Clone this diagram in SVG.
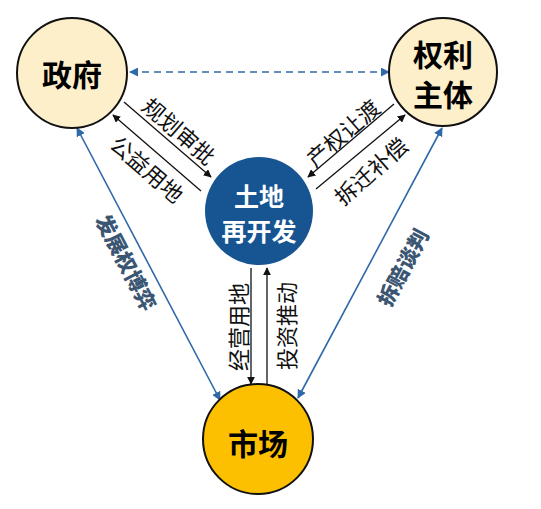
<svg xmlns="http://www.w3.org/2000/svg" width="541" height="509" viewBox="0 0 541 509">
<style>
.node{stroke:#111;stroke-width:2}
.nt{font-family:"Noto Sans CJK SC","Noto Sans CJK JP",sans-serif;font-weight:bold;text-anchor:middle;dominant-baseline:central}
.lbl{font-family:"Noto Sans CJK SC","Noto Sans CJK JP",sans-serif;font-size:22px;fill:#111;text-anchor:middle;dominant-baseline:central}
.blbl{font-family:"Noto Sans CJK SC","Noto Sans CJK JP",sans-serif;font-size:21px;font-weight:900;fill:#3b5673;text-anchor:middle;dominant-baseline:central}
.ka{stroke:#111;stroke-width:1.3;fill:none;marker-end:url(#ak)}
.ba{stroke:#2f69a8;stroke-width:1.6;fill:none;marker-start:url(#abs);marker-end:url(#ab)}
</style>
<defs>
<marker id="ak" viewBox="0 0 10 10" refX="9" refY="5" markerWidth="8" markerHeight="8" markerUnits="userSpaceOnUse" orient="auto"><path d="M0,0 L10,5 L0,10 z" fill="#111"/></marker>
<marker id="ab" viewBox="0 0 10 10" refX="9" refY="5" markerWidth="9" markerHeight="9" markerUnits="userSpaceOnUse" orient="auto"><path d="M0,0 L10,5 L0,10 z" fill="#2f69a8"/></marker>
<marker id="abs" viewBox="0 0 10 10" refX="9" refY="5" markerWidth="9" markerHeight="9" markerUnits="userSpaceOnUse" orient="auto-start-reverse"><path d="M0,0 L10,5 L0,10 z" fill="#2f69a8"/></marker>
</defs>
<rect width="541" height="509" fill="#ffffff"/>
<g id="connectors">
<line x1="130" y1="72" x2="389" y2="72" class="ba" stroke-dasharray="7,5"/>
<line x1="77" y1="128" x2="220" y2="400" class="ba"/>
<line x1="442" y1="128" x2="298" y2="398" class="ba"/>
<line x1="124" y1="102" x2="211" y2="177" class="ka"/>
<line x1="201" y1="191" x2="113" y2="115" class="ka"/>
<line x1="394" y1="104" x2="308" y2="177" class="ka"/>
<line x1="316" y1="189" x2="405" y2="115" class="ka"/>
<line x1="251" y1="268" x2="251" y2="384" class="ka"/>
<line x1="267" y1="384" x2="267" y2="268" class="ka"/>
<text class="lbl" transform="translate(180,130) rotate(41)">规划审批</text>
<text class="lbl" transform="translate(148,168) rotate(41)">公益用地</text>
<text class="lbl" transform="translate(342,132) rotate(-41)">产权让渡</text>
<text class="lbl" transform="translate(370,170) rotate(-41)">拆迁补偿</text>
<text class="lbl" transform="translate(237,327) rotate(-90)">经营用地</text>
<text class="lbl" transform="translate(285,326) rotate(-90)">投资推动</text>
<text class="blbl" transform="translate(127,262) rotate(62.4)">发展权博弈</text>
<text class="blbl" transform="translate(402,267) rotate(-62)">拆赔谈判</text>
</g>
<g id="gov">
<circle cx="72" cy="73" r="55" class="node" fill="#fcefc9"/>
<text class="nt" x="72" y="73" font-size="30" fill="#000">政府</text>
</g>
<g id="owner">
<circle cx="443" cy="72" r="54" class="node" fill="#fcefc9"/>
<text class="nt" x="443" y="53" font-size="30" fill="#000">权利</text>
<text class="nt" x="443" y="93" font-size="30" fill="#000">主体</text>
</g>
<g id="land">
<circle cx="259" cy="211" r="54" fill="#175592"/>
<text class="nt" x="259" y="195" font-size="25" fill="#fff">土地</text>
<text class="nt" x="259" y="230" font-size="25" fill="#fff">再开发</text>
</g>
<g id="market">
<circle cx="258" cy="439" r="55" class="node" fill="#fcc000"/>
<text class="nt" x="258" y="442" font-size="30" fill="#000">市场</text>
</g>
</svg>
